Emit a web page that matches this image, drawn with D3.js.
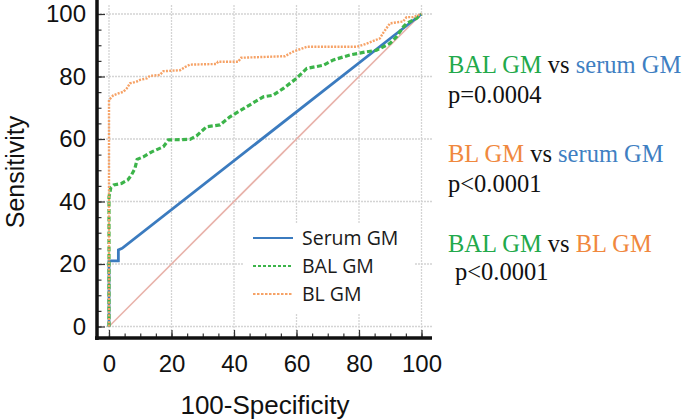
<!DOCTYPE html>
<html><head><meta charset="utf-8">
<script src="https://cdn.jsdelivr.net/npm/d3@7"></script>
<style>body{margin:0;background:#fff}svg{display:block}</style>
</head><body>
<svg id="c" width="685" height="420"></svg>
<script>
const majorTicks = [0, 20, 40, 60, 80, 100];
const minorTicks = d3.range(0, 101, 5);
const seriesNames = ["Serum GM", "BAL GM", "BL GM"];
const serumFpr = [0, 0, 3, 3, 4.2, 100];
const serumTpr = [0, 21, 21, 24.5, 25, 100];
const balFpr = [0, 0, 0.6, 1.5, 4, 6, 7.2, 8.3, 9, 11, 13.7, 17.4, 19, 25.9, 28, 31.2, 35.5, 38.7, 44, 49.4, 52.5, 55.8, 60, 63.3, 68.6, 71.8, 77.1, 82.4, 85.6, 89.9, 92, 94.2, 95.2, 98.4, 100];
const balTpr = [0, 41.5, 44.5, 45.3, 45.8, 46.9, 48.5, 50.6, 53.5, 54.3, 55.9, 57.5, 59.7, 59.9, 61, 63.9, 64.5, 67.1, 70.3, 73.5, 74, 76.2, 79.4, 82.6, 83.6, 85.3, 86.9, 87.9, 88.4, 90.6, 92.7, 95.9, 97, 98.6, 100];
const blFpr = [0, 0, 1.4, 3, 4.6, 5.7, 6.7, 8.9, 9.9, 12.1, 13.1, 16.3, 17.4, 22.7, 24.3, 25.9, 34.4, 34.9, 41.3, 42.3, 56.3, 59, 63.3, 79.3, 82.4, 86.7, 87.7, 89.9, 94.1, 95.2, 97.3, 100];
const blTpr = [0, 72.5, 74, 74.6, 75.1, 76.2, 77.8, 78.4, 78.9, 79.4, 80.2, 80.5, 81.7, 82, 83, 83.8, 84, 84.7, 84.7, 86, 86.5, 88, 89.5, 89.5, 90.5, 92.2, 93.9, 97, 97.6, 99, 99, 100];
const diagFpr = [0, 100];
const diagTpr = [0, 100];

const svg = d3.select("#c");
const x = d3.scaleLinear().domain([0, 100]).range([109, 421.5]);
const y = d3.scaleLinear().domain([0, 100]).range([326.5, 14]);
const axX = 97, axY = 338;

// gridlines
const grid = svg.append("g").attr("stroke", "#d4d4d4").attr("stroke-width", 1.3).attr("stroke-dasharray", "2,1");
grid.selectAll(".gy").data(majorTicks).join("line")
  .attr("x1", axX).attr("x2", 432).attr("y1", d => y(d)).attr("y2", d => y(d));
grid.selectAll(".gx").data(majorTicks).join("line")
  .attr("y1", 5).attr("y2", axY).attr("x1", d => x(d)).attr("x2", d => x(d));

// curves
const line = d3.line().x(d => x(d[0])).y(d => y(d[1]));
const zip = (a, b) => a.map((v, i) => [v, b[i]]);
svg.append("path").datum(zip(diagFpr, diagTpr)).attr("d", line)
  .attr("fill", "none").attr("stroke", "#e8b2aa").attr("stroke-width", 1.6);
svg.append("path").datum(zip(serumFpr, serumTpr)).attr("d", line)
  .attr("fill", "none").attr("stroke", "#3b7bbf").attr("stroke-width", 2.8);
svg.append("path").datum(zip(balFpr, balTpr)).attr("d", line)
  .attr("fill", "none").attr("stroke", "#3cb44a").attr("stroke-width", 3.2).attr("stroke-dasharray", "5,2.5");
svg.append("path").datum(zip(blFpr, blTpr)).attr("d", line)
  .attr("fill", "none").attr("stroke", "#f6a266").attr("stroke-width", 2.4).attr("stroke-dasharray", "2,1.3");

// legend
svg.append("rect").attr("x", 243).attr("y", 223).attr("width", 172).attr("height", 90).attr("fill", "#fff");
const legColors = ["#3b7bbf", "#3cb44a", "#f6a266"];
const legDash = [null, "3,2", "2.5,1.5"];
const legY = [238, 266, 294];
seriesNames.forEach((n, i) => {
  svg.append("line").attr("x1", 253).attr("x2", 293).attr("y1", legY[i]).attr("y2", legY[i])
    .attr("stroke", legColors[i]).attr("stroke-width", i === 0 ? 1.8 : 2).attr("stroke-dasharray", legDash[i]);
  svg.append("text").attr("x", 302).attr("y", legY[i] + 6.5).text(n)
    .attr("font-family", "'Open Sans', 'Liberation Sans', sans-serif").attr("font-size", 19.5).attr("fill", "#1a1a1a");
});

// axes
const yAxis = svg.append("g").attr("transform", `translate(${axX},0)`)
  .call(d3.axisLeft(y).tickValues(majorTicks).tickSize(-8).tickPadding(11).tickFormat(d3.format("d")));
const yMinor = svg.append("g").attr("transform", `translate(${axX},0)`)
  .call(d3.axisLeft(y).tickValues(minorTicks).tickSize(-4.5).tickFormat(""));
const xAxis = svg.append("g").attr("transform", `translate(0,${axY})`)
  .call(d3.axisBottom(x).tickValues(majorTicks).tickSize(-8).tickPadding(17).tickFormat(d3.format("d")));
const xMinor = svg.append("g").attr("transform", `translate(0,${axY})`)
  .call(d3.axisBottom(x).tickValues(minorTicks).tickSize(-4.5).tickFormat(""));
[yAxis, yMinor, xAxis, xMinor].forEach(g => {
  g.select(".domain").remove();
  g.selectAll(".tick line").attr("stroke", "#333").attr("stroke-width", 1.2);
  g.selectAll("text").attr("font-family", "'Liberation Sans', Arial, sans-serif").attr("font-size", 24).attr("fill", "#111");
});
svg.append("line").attr("x1", axX).attr("x2", axX).attr("y1", 0).attr("y2", axY + 2)
  .attr("stroke", "#111").attr("stroke-width", 3.5);
svg.append("line").attr("x1", axX - 2).attr("x2", 432).attr("y1", axY).attr("y2", axY)
  .attr("stroke", "#111").attr("stroke-width", 3.5);

// axis titles
svg.append("text").attr("transform", "translate(24,172) rotate(-90)").attr("text-anchor", "middle")
  .attr("font-family", "'Liberation Sans', Arial, sans-serif").attr("font-size", 25).attr("fill", "#111").text("Sensitivity");
svg.append("text").attr("x", 265).attr("y", 414).attr("text-anchor", "middle")
  .attr("font-family", "'Liberation Sans', Arial, sans-serif").attr("font-size", 26).attr("fill", "#111").text("100-Specificity");

// annotations
const green = "#22a94b", blue = "#3f7fc2", orange = "#f0883e", dark = "#111";
const notes = [
  {x: 448, y: 73, parts: [["BAL GM", green], [" vs ", dark], ["serum GM", blue]]},
  {x: 448, y: 103, parts: [["p=0.0004", dark]]},
  {x: 448, y: 162, parts: [["BL GM", orange], [" vs ", dark], ["serum GM", blue]]},
  {x: 448, y: 192, parts: [["p<0.0001", dark]]},
  {x: 448, y: 252, parts: [["BAL GM", green], [" vs ", dark], ["BL GM", orange]]},
  {x: 455, y: 280, parts: [["p<0.0001", dark]]}
];
notes.forEach(n => {
  const t = svg.append("text").attr("x", n.x).attr("y", n.y)
    .attr("font-family", "'Liberation Serif', 'Times New Roman', serif").attr("font-size", 24.5)
    .attr("xml:space", "preserve").style("white-space", "pre");
  n.parts.forEach(p => t.append("tspan").attr("fill", p[1]).text(p[0]));
});
</script>
</body></html>
